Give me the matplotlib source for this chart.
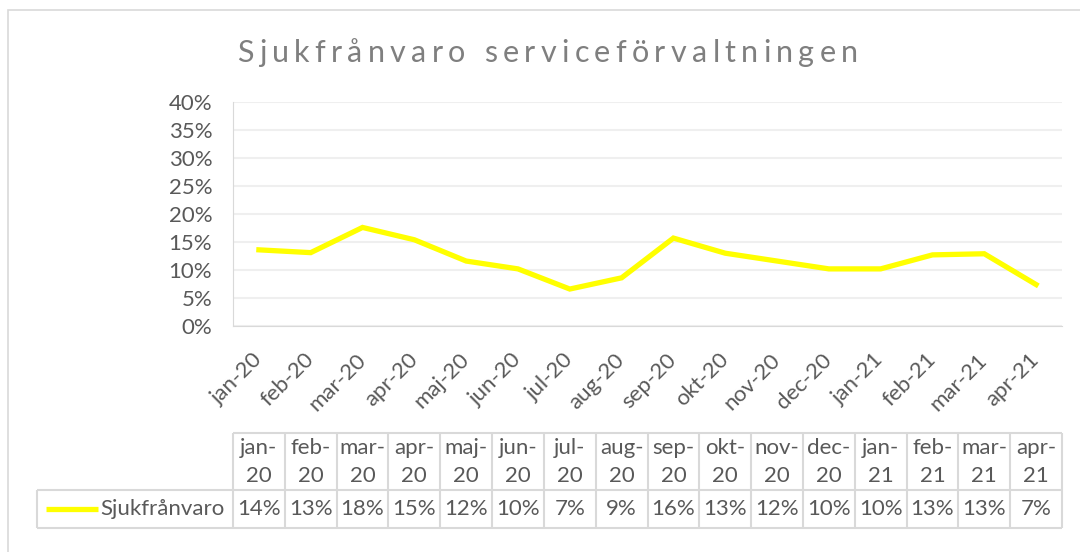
import numpy as np
import matplotlib.pyplot as plt
import matplotlib.transforms as mtransforms
from matplotlib.patches import Rectangle
from matplotlib.lines import Line2D

# data
months = ["jan-20", "feb-20", "mar-20", "apr-20", "maj-20", "jun-20", "jul-20", "aug-20",
          "sep-20", "okt-20", "nov-20", "dec-20", "jan-21", "feb-21", "mar-21", "apr-21"]
sjuk = [0.136, 0.131, 0.176, 0.154, 0.116, 0.102, 0.066, 0.086,
        0.157, 0.130, 0.116, 0.102, 0.102, 0.127, 0.129, 0.074]
series_name = "Sjukfrånvaro"
title = "Sjukfrånvaro serviceförvaltningen"

plt.rcParams['font.family'] = ['Lato', 'DejaVu Sans']
txt = '#595959'
grid = '#d9d9d9'
fs = 16
W, H = 1080, 552

fig = plt.figure(figsize=(10.8, 5.52), dpi=100)

def fx(px):
    return px / W

def fy(py):
    return 1 - py / H

# outer chart border (runs off right and bottom)
fig.patches.append(Rectangle((fx(8), fy(570)), fx(1100), 560 / H, transform=fig.transFigure,
                             fill=False, edgecolor=grid, lw=1.2))

ax = fig.add_axes([fx(233), fy(326), fx(1062) - fx(233), (326 - 102) / H])
x = np.arange(len(months))
ax.plot(x, sjuk, color='#ffff00', lw=3.8, solid_joinstyle='miter', zorder=3)
ax.set_xlim(-0.5, len(months) - 0.5)
ax.set_ylim(0, 0.40)
ax.set_yticks(np.arange(0, 0.401, 0.05))
ax.set_yticklabels([f"{int(round(v * 100))}%" for v in np.arange(0, 0.401, 0.05)])
ax.grid(axis='y', color='#efefef', lw=1.5)
ax.set_axisbelow(True)
for s in ['top', 'right']:
    ax.spines[s].set_visible(False)
ax.spines['left'].set_color(grid)
ax.spines['bottom'].set_color(grid)
ax.tick_params(axis='y', length=0, pad=15, labelsize=fs, labelcolor=txt)
ax.set_xticks(x)
ax.set_xticklabels(months, rotation=45, ha='right', va='center', rotation_mode='anchor')
ax.tick_params(axis='x', length=0, pad=22, labelsize=fs, labelcolor=txt)

# title with letter spacing, one glyph at a time
renderer = fig.canvas.get_renderer()
tsize = 22
widths = []
for ch in title:
    t = fig.text(0, 0, ch if ch != ' ' else 'n', fontsize=tsize, color='#7f7f7f')
    w = t.get_window_extent(renderer).width
    t.remove()
    widths.append(w * (0.5 if ch == ' ' else 1))
target = 621
gap = (target - sum(widths)) / (len(title) - 1)
cx = 237
for ch, w in zip(title, widths):
    if ch != ' ':
        fig.text(fx(cx), fy(62), ch, fontsize=tsize, color='#7f7f7f', ha='left', va='baseline')
    cx += w + gap

# data table under the chart
bt = mtransforms.blended_transform_factory(ax.transData, fig.transFigure)
y_top, y_mid, y_bot = fy(433), fy(490), fy(528)
lkw = dict(color=grid, lw=1.5, solid_capstyle='butt')
left = -0.5
right = len(months) - 0.5
fig.add_artist(Line2D([left, right], [y_top, y_top], transform=bt, **lkw))
for yy in (y_mid, y_bot):
    fig.add_artist(Line2D([fx(37), ax.get_position().x1], [yy, yy], transform=fig.transFigure, **lkw))
for i in range(len(months) + 1):
    fig.add_artist(Line2D([i - 0.5, i - 0.5], [y_top, y_bot], transform=bt, **lkw))
fig.add_artist(Line2D([fx(37), fx(37)], [y_mid, y_bot], transform=fig.transFigure, **lkw))

for i, m in enumerate(months):
    mon, yr = m.split('-')
    fig.text(i, fy(448), mon + '-', transform=bt, ha='center', va='center', fontsize=fs, color=txt)
    fig.text(i, fy(476), yr, transform=bt, ha='center', va='center', fontsize=fs, color=txt)
    fig.text(i, fy(509), f"{int(round(sjuk[i] * 100))}%", transform=bt, ha='center', va='center',
             fontsize=fs, color=txt)

fig.add_artist(Line2D([fx(46), fx(98)], [fy(509), fy(509)], transform=fig.transFigure,
                      color='#ffff00', lw=3.8, solid_capstyle='butt'))
fig.text(fx(100), fy(509), series_name, ha='left', va='center', fontsize=fs, color=txt)

fig.savefig('out.png', dpi=100)
